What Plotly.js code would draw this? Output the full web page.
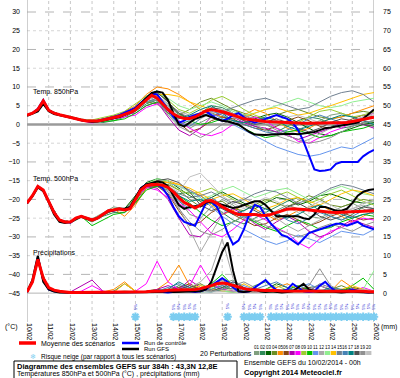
<!DOCTYPE html>
<html><head><meta charset="utf-8">
<script src="https://cdn.plot.ly/plotly-3.0.1.min.js"></script>
<style>body{margin:0;background:#fff}#chart{width:400px;height:378px}</style>
</head><body><div id="chart"></div>
<script>
// ---------- time axes (hours since 10/02/2014 00h) ----------
const hoursFull = [0,6,12,18,24,30,36,42,48,54,60,66,72,78,84,90,96,102,108,114,120,126,132,138,144,150,156,162,168,174,180,186,192,198,204,210,216,222,228,234,240,246,252,258,264,270,276,282,288,294,300,306,312,318,324,330,336,342,348,354,360,366,372,378,384];
const hoursPert = [0,6,12,18,24,36,48,60,72,84,96,108,120,132,144,156,168,180,192,204,216,228,240,252,264,276,288,300,312,324,336,348,360,372,384];
const dateTicks = [0,24,48,72,96,120,144,168,192,216,240,264,288,312,336,360,384];
const dateLabels = ["10/02","11/02","12/02","13/02","14/02","15/02","16/02","17/02","18/02","19/02","20/02","21/02","22/02","23/02","24/02","25/02","26/02"];
const leftTicks = [-45,-40,-35,-30,-25,-20,-15,-10,-5,0,5,10,15,20,25,30];
const rightTicks = [0,5,10,15,20,25,30,35,40,45,50,55,60,65,70,75];

// ---------- mean / control / GFS (6h) ----------
const meanT850 = [2.5,3.0,4.0,6.3, 3.8,3.0,2.6,2.2, 2.0,1.6,1.2,0.9, 0.8,0.9,1.2,1.5, 1.8,2.2,2.7,3.2, 4.0,5.2,6.5,7.8, 7.0,5.5,4.0,2.8, 2.0,1.6,1.6,2.0, 2.8,3.6,4.0,3.8, 3.4,3.0,2.6,2.0, 1.5,1.3,1.0,0.9, 0.8,0.7,0.6,0.6, 0.5,0.4,0.4,0.3, 0.3,0.3,0.3,0.3, 0.3,0.4,0.4,0.5, 0.8,1.1,1.4,1.7, 1.9];
const ctrlT850 = [2.5,3.0,4.2,6.5, 3.8,3.0,2.6,2.2, 2.0,1.6,1.2,0.9, 0.8,1.0,1.3,1.7, 2.0,2.5,3.2,3.8, 4.5,5.8,7.0,8.2, 8.0,6.0,4.0,2.0, 0.5,1.0,2.0,2.5, 3.0,3.5,2.5,1.5, 1.0,1.5,2.5,3.0, 2.0,1.0,0.5,1.0, 1.5,2.0,2.5,2.0, 1.5,0.5,-1.5,-4.5, -8.5,-12.0,-12.4,-12.3, -12.0,-10.5,-10.0,-10.0, -10.2,-10.0,-8.5,-7.5, -6.8];
const gfsT850 = [2.3,2.8,3.5,5.5, 3.5,2.8,2.5,2.1, 1.8,1.5,1.1,0.8, 0.7,0.8,1.1,1.4, 1.6,2.0,2.6,3.2, 4.2,5.5,7.0,8.4, 8.8,8.5,6.5,3.0, 0.0,-0.5,0.5,1.5, 2.0,2.5,2.0,1.5, 1.0,0.8,0.5,0.0, -1.0,-2.0,-2.7,-2.8, -2.8,-2.7,-2.6,-2.6, -2.5,-2.5,-2.6,-2.4, -2.2,-2.0,-1.5,-1.0, -0.8,-0.5,-0.2,0.0, 0.2,0.5,1.5,2.8, 4.0];

const meanT500 = [-21.0,-19.0,-16.5,-17.5, -20.5,-23.5,-25.5,-26.0, -26.0,-25.0,-24.5,-25.0, -25.5,-25.0,-24.0,-23.0, -22.8,-22.5,-22.8,-22.5, -20.0,-17.5,-16.3,-16.0, -16.0,-16.2,-16.8,-18.0, -19.5,-20.8,-21.5,-22.3, -21.5,-20.5,-20.3,-21.0, -22.0,-22.8,-23.5,-24.0, -24.0,-23.8,-24.0,-24.2, -24.3,-24.0,-23.5,-23.0, -22.6,-22.5,-22.5,-22.7, -22.8,-23.0,-23.2,-23.3, -23.4,-23.5,-23.5,-23.4, -23.3,-23.2,-23.1,-23.1, -23.0];
const ctrlT500 = [-21.0,-19.0,-16.5,-17.5, -20.5,-23.5,-25.5,-26.0, -26.2,-25.0,-24.5,-25.0, -25.5,-25.0,-24.0,-23.0, -23.0,-22.5,-22.8,-22.5, -20.0,-17.0,-16.0,-15.8, -16.0,-17.0,-19.0,-22.0, -24.5,-26.0,-26.5,-27.0, -24.0,-21.0,-20.5,-22.0, -25.0,-29.0,-32.0,-31.0, -28.0,-24.0,-21.5,-22.0, -24.5,-26.5,-28.0,-29.5, -30.0,-31.0,-32.0,-30.5, -29.0,-28.5,-28.0,-27.5, -27.0,-26.5,-26.5,-27.0, -26.5,-26.0,-27.0,-27.5, -28.0];
const gfsT500 = [-21.0,-19.2,-16.8,-17.8, -20.8,-24.0,-26.0,-26.3, -26.0,-25.2,-24.5,-25.2, -25.5,-25.0,-24.2,-23.2, -22.8,-22.5,-22.5,-22.0, -19.5,-17.0,-16.0,-15.5, -15.2,-15.5,-16.5,-19.0, -21.5,-22.5,-22.0,-21.8, -21.8,-20.8,-20.5,-21.0, -21.5,-22.0,-22.3,-22.0, -21.5,-21.0,-20.5,-20.5, -21.5,-23.0,-24.5,-24.5, -24.5,-24.5,-24.5,-25.0, -25.3,-24.0,-22.0,-22.0, -22.5,-23.0,-23.0,-22.5, -21.0,-19.0,-18.0,-17.5, -17.3];

const meanPrecip = [0.3,3.0,9.0,4.0, 1.5,0.8,0.5,0.3, 0.2,0.2,0.2,0.2, 0.2,0.2,0.2,0.2, 0.2,0.2,0.3,0.3, 0.3,0.3,0.4,0.5, 0.5,0.6,0.8,0.8, 1.0,0.8,0.8,1.0, 1.2,1.5,2.0,2.5, 2.7,2.5,2.0,1.5, 1.2,1.0,0.8,0.8, 0.7,0.8,0.7,0.6, 0.6,0.6,0.5,0.6, 0.7,0.7,0.6,0.6, 0.7,0.6,0.6,0.5, 0.5,0.5,0.5,0.4, 0.4];
const ctrlPrecip = [0.3,3.0,9.5,3.5, 1.0,0.5,0.3,0.2, 0.1,0.1,0.1,0.1, 0.1,0.1,0.1,0.1, 0.1,0.1,0.1,0.1, 0.2,0.3,0.3,0.5, 0.5,0.3,0.2,0.3, 0.5,0.8,0.5,0.3, 0.5,1.0,2.0,3.0, 4.0,3.0,1.5,0.5, 0.3,0.5,1.5,2.5, 3.5,2.0,0.8,0.5, 1.0,2.5,1.5,0.5, 0.3,0.5,2.0,3.0, 1.5,0.5,0.3,0.5, 1.0,0.5,0.3,0.2, 0.3];
const gfsPrecip = [0.3,3.5,10.0,3.0, 1.0,0.4,0.2,0.1, 0.1,0.1,0.1,0.1, 0.1,0.1,0.2,0.1, 0.1,0.2,0.3,0.2, 0.2,0.3,0.3,0.2, 0.3,0.4,0.5,0.3, 0.3,0.5,0.5,0.3, 0.5,1.0,3.0,7.0, 11.0,13.5,6.0,0.5, 0.3,0.5,1.0,0.5, 0.3,0.5,0.3,0.2, 0.3,0.5,1.5,2.5, 1.0,0.5,0.3,0.5, 0.5,0.3,0.2,0.3, 0.5,0.3,0.2,0.2, 0.2];

// ---------- 20 perturbations (6h first day, then 12h) ----------
const pertT850 = [
[2.5,3.1,4.1,6.4,3.7,2.5,1.9,1.0,0.6,1.5,2.4,3.0,4.5,7.0,8.0,5.0,1.0,-1.0,0.5,2.0,3.5,4.0,2.5,1.0,0.0,-1.0,-2.0,-1.5,0.0,1.0,2.5,3.0,2.0,1.0,0.5],
[2.4,3.0,3.9,6.2,3.9,2.7,2.1,1.3,1.0,0.5,1.0,2.0,3.5,5.5,6.5,3.0,0.0,1.0,3.0,5.0,4.5,3.0,1.0,-0.5,-1.5,-2.0,-0.5,1.0,2.0,1.5,0.0,-1.0,-0.5,0.5,1.0],
[2.6,3.0,4.0,6.3,3.8,2.6,2.0,1.2,0.5,1.0,1.5,2.5,4.0,7.5,9.0,6.0,2.5,1.5,2.0,3.0,2.0,1.0,0.5,1.5,2.5,3.0,2.0,0.5,-1.0,-2.5,-3.0,-2.0,-1.0,0.0,0.5],
[2.5,2.9,4.0,6.2,3.8,2.6,1.9,1.1,0.9,1.4,2.0,3.0,4.5,6.0,5.5,3.0,2.5,4.0,6.0,7.0,5.5,4.0,3.0,2.0,1.5,2.5,3.5,4.0,3.0,2.0,1.5,2.0,3.0,3.5,3.0],
[2.5,3.0,4.1,6.4,3.8,2.6,2.0,1.2,0.7,1.0,1.8,3.5,5.0,8.0,10.0,9.5,8.0,6.0,4.0,3.0,2.0,1.5,2.5,4.0,3.0,1.0,-1.0,-2.0,-1.0,0.5,1.5,2.0,3.0,4.0,5.0],
[2.5,3.0,4.0,6.3,3.7,2.7,2.0,1.2,0.8,1.2,2.2,2.5,3.5,6.5,7.5,4.0,0.5,-2.0,-1.0,1.0,2.0,1.5,0.0,-1.0,-1.5,-0.5,1.0,2.0,1.0,-0.5,-1.0,0.0,1.5,2.5,2.0],
[2.5,3.0,4.0,6.2,3.8,2.6,2.0,1.4,1.1,1.3,2.0,3.0,3.0,5.0,6.0,2.0,-1.5,-3.0,-1.0,2.0,3.0,2.0,0.5,-0.5,-1.0,-2.0,-3.0,-4.0,-3.0,-2.0,-1.0,0.5,1.0,0.0,-1.0],
[2.5,3.0,4.0,6.3,3.8,2.6,2.0,1.0,0.4,1.0,1.5,2.0,2.5,4.5,5.5,3.5,1.0,-1.0,-2.5,-3.0,-2.0,0.0,1.0,2.0,1.0,-1.0,-2.5,-4.5,-5.0,-3.5,-2.0,-1.0,0.5,2.0,3.0],
[2.5,3.0,4.0,6.3,3.8,2.6,2.0,1.4,1.2,1.8,2.5,3.5,5.5,7.5,8.5,6.5,4.0,3.0,4.5,6.5,7.5,6.0,4.0,2.5,1.5,0.5,-0.5,0.5,2.0,3.5,4.0,3.0,2.0,2.5,3.5],
[2.5,3.0,4.0,6.3,3.8,2.6,2.0,1.2,0.6,0.8,1.0,1.5,3.0,5.0,6.0,5.0,3.0,1.0,0.0,0.5,1.5,0.5,-1.0,-2.5,-3.5,-3.0,-2.0,-1.5,-2.5,-3.5,-3.0,-2.0,-1.5,-1.0,0.0],
[2.5,3.0,4.0,6.3,3.8,2.6,2.1,1.3,0.9,1.3,1.8,2.8,4.0,6.0,7.0,4.5,2.0,1.0,2.0,3.0,1.5,0.0,-1.5,-3.0,-4.5,-6.0,-7.0,-8.0,-8.5,-8.0,-7.0,-6.0,-6.5,-5.0,-3.5],
[2.5,3.0,4.0,6.3,3.8,2.6,2.0,1.2,0.8,1.2,1.8,2.7,4.2,6.8,7.8,5.5,3.5,2.5,3.0,4.0,3.5,2.0,1.0,0.0,-1.5,-3.0,-4.0,-5.0,-4.0,-2.5,-1.0,0.0,1.0,2.0,3.0],
[2.5,3.0,4.0,6.3,3.8,2.7,2.2,1.4,1.0,1.5,2.0,2.9,4.5,7.0,8.5,7.0,5.0,4.0,5.0,6.0,5.0,3.5,2.5,3.0,4.0,5.0,6.0,7.0,6.0,5.0,4.5,5.0,6.0,6.5,7.0],
[2.5,3.0,4.0,6.3,3.8,2.6,2.0,1.2,0.8,1.2,1.8,2.7,4.0,6.5,8.0,8.0,7.5,6.0,5.0,4.0,3.0,2.5,2.0,3.0,4.0,4.5,3.5,2.5,3.0,4.0,5.0,6.0,7.0,8.0,8.5],
[2.5,3.0,4.0,6.3,3.8,2.6,1.9,1.1,0.7,1.1,1.6,2.5,4.0,6.0,7.0,5.0,3.0,2.0,2.5,3.0,3.5,4.5,5.5,6.5,7.0,6.0,5.0,4.0,4.5,6.0,7.5,8.5,9.0,8.0,6.0],
[2.5,3.0,4.0,6.3,3.8,2.6,2.0,1.2,0.8,1.2,1.8,2.7,4.0,6.5,7.5,4.0,0.5,-0.5,1.5,3.5,2.5,1.0,0.0,-1.0,-2.0,-2.5,-1.5,0.0,1.5,2.5,1.5,0.5,0.0,1.0,2.0],
[2.5,3.0,4.0,6.3,3.8,2.6,2.0,1.2,0.8,1.0,1.6,2.4,4.0,6.0,6.5,3.5,1.5,2.5,4.0,5.0,3.0,1.0,0.5,1.0,2.0,1.0,-0.5,-1.5,-0.5,0.5,1.5,2.5,2.0,1.0,0.0],
[2.5,3.0,4.0,6.3,3.8,2.6,2.0,1.2,0.8,1.2,1.8,2.7,4.0,7.0,8.5,6.0,3.0,1.5,2.5,4.5,4.0,2.5,1.0,0.0,0.5,1.5,0.5,-1.0,-2.0,-1.0,0.5,1.5,1.0,0.0,-0.5],
[2.5,3.0,4.0,6.3,3.8,2.6,2.0,1.2,0.8,1.2,1.8,2.7,4.0,6.0,6.5,2.5,-0.5,-2.0,-3.5,-2.0,0.0,1.5,2.5,1.5,0.0,-1.5,-3.0,-4.0,-5.0,-4.5,-3.5,-2.0,-0.5,0.5,1.0],
[2.5,3.0,4.0,6.3,3.8,2.6,2.0,1.2,0.8,1.2,1.8,2.7,4.0,6.5,7.5,5.0,2.5,1.0,1.5,3.0,4.0,3.0,2.0,1.0,0.5,1.0,2.0,2.5,1.5,0.5,0.0,0.5,1.0,2.0,2.5]
];
const pertT500 = [
[-21,-19,-16.6,-17.4,-20.4,-25.6,-26.1,-24.3,-25.2,-23.5,-22.0,-22.5,-19.5,-16.0,-15.5,-16.5,-20.0,-24.0,-25.0,-22.0,-20.0,-21.5,-24.0,-26.0,-25.0,-23.0,-21.5,-22.5,-24.5,-25.0,-23.5,-22.0,-21.0,-22.5,-24.0],
[-21,-19.1,-16.5,-17.5,-20.6,-25.4,-26.3,-24.8,-26.0,-24.5,-23.5,-23.5,-21.0,-17.0,-16.5,-17.5,-18.5,-18.0,-19.0,-21.0,-23.5,-25.5,-26.5,-25.0,-23.5,-22.0,-20.5,-19.5,-21.0,-23.0,-24.5,-25.5,-24.0,-22.0,-21.0],
[-21,-18.9,-16.4,-17.6,-20.5,-25.5,-26.0,-24.6,-25.6,-24.2,-22.6,-22.5,-19.0,-15.5,-14.5,-15.0,-17.0,-19.0,-20.5,-19.5,-18.0,-19.5,-21.0,-22.5,-21.0,-19.5,-20.0,-21.5,-20.5,-19.0,-18.5,-19.5,-20.5,-21.0,-20.5],
[-21,-19,-16.5,-17.5,-20.5,-25.5,-26.2,-24.4,-25.8,-24.0,-23.0,-23.0,-20.5,-16.5,-16.0,-16.0,-17.5,-20.0,-22.0,-21.0,-20.5,-22.5,-23.0,-21.5,-20.0,-21.0,-22.0,-20.5,-19.0,-20.0,-21.5,-22.0,-21.0,-20.0,-20.5],
[-21,-19,-16.5,-17.5,-20.5,-25.5,-26.0,-24.5,-25.5,-23.8,-22.5,-24.5,-21.5,-17.0,-15.5,-15.0,-16.0,-17.5,-19.0,-21.5,-24.0,-23.0,-21.5,-22.5,-24.0,-25.5,-24.5,-23.0,-22.0,-21.5,-23.0,-24.5,-26.0,-24.5,-23.0],
[-21,-19,-16.5,-17.5,-20.5,-25.5,-26.0,-24.5,-25.4,-24.1,-22.9,-22.7,-20.2,-16.5,-16.5,-18.5,-23.0,-27.0,-26.0,-23.5,-22.0,-24.0,-25.5,-27.0,-26.5,-25.0,-24.0,-25.5,-27.0,-26.0,-24.5,-23.5,-24.5,-25.5,-25.0],
[-21,-19,-16.5,-17.5,-20.5,-25.5,-26.0,-24.5,-25.5,-24.0,-22.8,-22.8,-20.0,-16.5,-17.0,-20.0,-25.0,-29.5,-30.0,-27.0,-24.0,-22.5,-24.0,-26.5,-28.0,-26.0,-24.5,-26.0,-28.5,-30.0,-29.0,-27.0,-25.5,-26.5,-27.5],
[-21,-19,-16.5,-17.5,-20.5,-25.5,-26.0,-24.5,-25.5,-24.0,-22.8,-22.8,-20.0,-16.8,-17.5,-19.5,-21.0,-23.0,-26.0,-29.0,-30.0,-28.0,-25.5,-24.0,-25.5,-27.5,-29.0,-31.5,-33.0,-30.5,-28.5,-27.5,-26.0,-25.0,-25.5],
[-21,-19,-16.5,-17.5,-20.5,-25.5,-26.0,-24.5,-25.5,-24.0,-22.8,-22.8,-19.5,-15.8,-15.0,-15.5,-17.5,-18.5,-18.0,-17.0,-18.5,-20.0,-21.5,-22.0,-20.5,-19.0,-18.0,-19.5,-21.0,-20.0,-18.5,-17.5,-19.0,-20.5,-21.5],
[-21,-19,-16.5,-17.5,-20.5,-25.5,-26.0,-24.5,-27.0,-25.5,-24.0,-23.5,-21.0,-17.5,-16.5,-17.0,-19.0,-21.0,-23.5,-25.5,-27.0,-26.0,-24.5,-26.0,-27.5,-28.5,-27.0,-25.5,-26.5,-28.0,-27.5,-26.0,-25.0,-24.0,-24.5],
[-21,-19,-16.5,-17.5,-20.5,-25.5,-26.0,-24.5,-25.5,-24.0,-22.8,-22.8,-20.0,-16.0,-15.5,-15.5,-16.5,-17.5,-19.5,-22.0,-24.5,-26.5,-28.0,-29.5,-31.0,-32.0,-31.0,-29.5,-30.5,-31.5,-30.0,-28.5,-29.0,-29.5,-28.0],
[-21,-19,-16.5,-17.5,-20.5,-25.5,-26.0,-24.5,-25.5,-24.0,-22.8,-22.8,-20.0,-16.3,-15.5,-17.5,-22.0,-28.0,-34.0,-29.0,-24.0,-21.0,-19.5,-21.0,-23.5,-25.0,-27.0,-28.5,-27.0,-25.5,-24.0,-23.5,-22.5,-21.5,-22.5],
[-21,-19,-16.5,-17.5,-20.5,-25.5,-26.0,-24.5,-25.5,-24.0,-22.8,-22.8,-20.0,-16.0,-14.5,-15.0,-16.5,-18.0,-20.0,-19.0,-17.5,-16.5,-18.0,-19.5,-18.5,-17.5,-17.0,-18.5,-20.0,-19.0,-17.5,-16.5,-17.5,-18.5,-19.0],
[-21,-19,-16.5,-17.5,-20.5,-25.5,-26.0,-24.5,-25.5,-24.0,-22.8,-22.8,-20.0,-16.3,-15.5,-15.5,-16.0,-17.0,-18.5,-20.0,-19.0,-18.5,-20.0,-21.5,-22.5,-21.5,-20.0,-19.5,-20.5,-21.5,-20.0,-18.5,-17.5,-18.0,-19.0],
[-21,-19,-16.5,-17.5,-20.5,-25.5,-26.0,-24.5,-25.5,-24.0,-22.8,-22.8,-20.0,-16.3,-16.0,-16.5,-18.5,-19.5,-19.0,-18.0,-19.5,-21.0,-20.0,-18.5,-17.5,-18.0,-19.5,-21.0,-20.0,-18.5,-17.0,-16.0,-16.5,-17.5,-18.5],
[-21,-19,-16.5,-17.5,-20.5,-25.5,-26.0,-24.5,-25.5,-24.0,-22.8,-22.8,-20.0,-16.3,-16.0,-17.0,-20.5,-22.5,-21.0,-19.5,-21.5,-23.5,-25.0,-24.0,-22.5,-23.5,-25.5,-26.5,-25.0,-23.5,-24.5,-25.5,-24.5,-23.0,-22.5],
[-21,-19,-16.5,-17.5,-20.5,-25.5,-26.0,-24.5,-25.5,-24.0,-22.8,-22.8,-20.0,-16.3,-16.0,-16.8,-19.0,-20.5,-20.0,-21.0,-22.5,-24.0,-23.0,-21.5,-22.5,-24.0,-25.0,-24.0,-22.5,-21.5,-22.5,-24.0,-25.0,-24.0,-23.5],
[-21,-19,-16.5,-17.5,-20.5,-25.5,-26.0,-24.5,-25.5,-24.0,-22.8,-22.8,-20.0,-16.3,-15.0,-14.5,-15.5,-18.0,-21.5,-23.0,-22.0,-20.5,-21.5,-23.0,-24.5,-23.5,-22.0,-21.0,-22.5,-24.5,-25.5,-24.5,-23.0,-22.0,-22.5],
[-21,-19,-16.5,-17.5,-20.5,-25.5,-26.0,-24.5,-25.5,-24.0,-22.8,-22.8,-20.0,-16.3,-16.0,-18.0,-22.5,-26.0,-28.5,-29.5,-28.0,-26.0,-24.5,-25.5,-27.0,-28.0,-29.0,-30.0,-29.0,-27.5,-26.5,-27.5,-28.5,-27.0,-26.0],
[-21,-19,-16.5,-17.5,-20.5,-25.5,-26.0,-24.5,-25.5,-24.0,-22.8,-22.8,-20.0,-16.3,-16.0,-16.5,-18.0,-14.0,-13.0,-16.0,-19.0,-21.0,-22.5,-21.0,-19.5,-20.5,-22.0,-23.5,-22.0,-20.5,-21.5,-23.0,-22.5,-21.0,-20.5]
];
const pertPrecip = [
[0.3,3.0,9.0,4.0,1.2,0.3,0.1,0.1,0.1,0.2,0.3,0.2,0.1,0.3,0.5,1.0,1.5,0.8,0.5,1.0,2.5,3.5,1.5,0.5,0.3,0.5,1.0,0.5,0.3,0.2,0.5,1.0,0.5,0.3,0.2],
[0.2,2.8,8.5,4.5,1.0,0.3,0.1,0.1,0.2,0.1,0.5,2.5,0.5,0.2,0.3,0.5,2.0,1.0,0.3,0.5,1.5,1.0,0.5,2.0,3.0,1.0,0.3,0.5,1.5,2.0,0.8,0.3,0.2,0.5,0.3],
[0.3,3.2,9.5,3.5,1.3,0.2,0.1,0.1,0.1,0.1,0.2,0.3,0.2,0.5,1.0,0.5,0.3,0.5,1.0,2.0,1.0,0.5,0.3,0.5,1.0,2.5,1.5,0.5,0.3,0.5,0.8,0.5,1.5,1.0,0.5],
[0.3,3.0,8.0,4.0,1.5,0.4,0.1,0.2,0.1,0.1,0.2,0.2,0.3,0.3,0.5,0.8,0.5,1.5,2.5,1.0,0.5,0.3,0.5,1.0,0.5,0.3,0.5,1.0,0.5,0.3,1.0,2.0,0.8,0.5,0.3],
[0.3,3.0,9.0,4.0,1.2,0.3,0.1,0.1,0.2,0.3,1.0,3.0,0.5,0.3,1.0,3.0,7.5,2.0,0.5,1.0,2.0,1.0,0.5,0.3,0.5,1.5,2.5,1.0,0.5,0.3,0.5,3.5,1.5,0.5,0.3],
[0.3,3.0,9.0,4.0,1.2,0.3,0.1,0.1,0.1,0.1,0.2,0.3,0.2,0.3,0.5,0.5,1.5,2.5,1.0,0.5,1.0,2.0,1.0,0.5,0.3,0.2,0.5,1.0,1.5,0.5,0.3,0.5,1.0,0.5,0.3],
[0.3,3.0,9.0,4.0,1.2,0.3,0.3,2.0,3.5,0.5,0.2,0.3,0.2,0.3,1.0,2.0,1.0,3.5,1.5,2.0,4.0,2.0,0.5,0.3,0.5,0.3,0.2,0.5,1.0,2.0,1.0,0.5,0.3,0.2,0.2],
[0.3,3.0,9.5,4.0,1.2,0.3,0.1,0.5,2.0,0.5,0.2,0.3,0.5,2.5,8.5,3.0,1.0,2.0,7.5,2.5,1.0,0.5,0.3,0.5,1.0,0.5,0.3,0.5,1.0,0.5,0.3,0.2,0.5,1.5,0.5],
[0.3,3.0,9.0,4.0,1.2,0.3,0.1,0.1,0.1,0.1,0.2,0.2,0.2,0.3,0.5,0.3,0.5,1.0,0.5,1.5,3.0,1.5,0.5,0.3,1.0,2.0,0.8,0.3,0.5,0.3,0.2,0.5,1.0,0.5,0.3],
[0.3,3.0,8.5,4.5,1.2,0.3,0.1,0.1,0.1,0.1,0.3,0.5,0.3,0.2,0.3,0.5,1.0,0.5,1.0,2.5,5.0,2.0,1.0,0.5,0.3,0.5,1.0,2.0,1.0,0.5,0.3,0.5,2.0,4.0,1.0],
[0.3,3.0,9.0,4.0,1.2,0.3,0.1,0.1,0.1,0.1,0.2,0.3,0.2,0.3,0.5,1.0,0.5,0.3,0.5,1.0,2.0,3.0,2.0,1.0,0.5,0.3,0.5,1.5,2.5,1.0,0.5,0.3,0.5,0.3,0.2],
[0.3,3.0,9.0,4.0,1.2,0.3,0.1,0.1,0.1,0.1,0.2,0.3,0.2,0.3,0.5,0.5,1.0,1.5,3.0,6.0,14.5,4.0,1.0,0.5,0.3,0.5,0.3,0.5,1.0,2.0,1.0,0.5,0.3,0.5,0.3],
[0.3,3.0,9.0,4.0,1.2,0.3,0.1,0.1,0.1,0.1,0.2,0.2,0.2,0.3,0.3,0.5,0.5,1.0,2.0,1.5,0.5,0.3,0.5,1.0,0.5,0.3,0.2,0.3,0.5,1.0,0.5,0.3,0.5,1.0,6.0],
[0.3,3.0,9.0,4.0,1.2,0.3,0.1,0.1,0.1,0.1,0.2,2.5,0.5,0.3,0.5,0.3,0.5,1.0,2.0,1.0,0.5,1.0,2.5,1.0,0.5,0.3,0.5,1.0,0.5,0.3,0.5,1.0,2.0,1.0,0.5],
[0.3,3.0,9.0,4.0,1.2,0.3,0.1,0.1,0.1,0.1,0.2,0.3,0.2,0.3,0.5,0.5,0.3,0.5,1.0,2.0,3.5,1.5,0.5,0.3,0.5,1.0,0.5,0.3,0.5,2.5,1.5,0.5,0.3,0.2,0.3],
[0.3,3.0,9.0,4.0,1.2,0.3,0.1,0.1,0.1,0.1,0.2,0.3,0.2,0.3,0.5,1.5,2.5,1.0,0.5,1.0,2.0,1.0,0.5,1.0,2.0,3.0,1.5,0.5,0.3,0.5,1.0,0.5,0.3,0.5,0.3],
[0.3,3.0,9.0,4.0,1.2,0.3,0.1,0.1,0.1,0.1,0.2,0.3,0.2,0.3,0.5,1.0,3.0,1.5,0.5,0.3,1.0,2.5,1.0,0.5,0.3,0.5,1.0,0.5,0.3,0.5,1.5,1.0,0.5,0.3,0.2],
[0.3,3.0,9.0,4.0,1.2,0.3,0.1,0.1,0.1,0.1,0.2,0.3,0.2,0.3,0.5,0.5,1.0,2.0,1.0,0.5,1.5,3.0,1.5,0.5,0.3,0.5,0.3,0.5,1.0,0.5,0.3,0.5,1.0,0.5,0.3],
[0.3,3.0,9.0,4.0,1.2,0.3,0.1,0.1,0.1,0.1,0.2,0.3,0.2,0.3,0.5,0.5,0.3,0.5,1.0,0.5,1.0,2.0,3.0,1.5,0.5,0.3,0.5,1.0,2.0,6.5,2.0,0.5,0.3,0.5,0.3],
[0.3,3.0,9.0,4.0,1.2,0.3,0.1,0.1,0.1,0.1,0.2,0.3,0.2,0.3,0.5,0.5,0.5,1.0,0.5,0.3,0.5,1.0,0.5,0.3,0.5,1.0,0.5,0.3,0.5,1.0,0.5,0.3,0.5,1.0,0.5]
];
const pertLabels = ["01","02","03","04","05","06","07","08","09","10","11","12","13","14","15","16","17","18","19","20"];
const pertColors = ["#7f9f7f","#2e8b57","#006400","#6b8e23","#ff8c00","#8b4513","#b000b0","#ff00ff","#9acd32","#00c000","#6495ed","#a9a9a9","#90ee90","#ffc000","#708090","#4682b4","#008080","#505050","#909090","#c0c0c0"];

// ---------- snow risk ----------
const snowHours = [120,162,168,174,180,186,222,240,246,252,258,270,276,282,288,294,300,306,312,318,324,330,336,342,348,354,360,366,372,378,384];
const snowPct = ["5%","5%","5%","5%","5%","5%","5%","5%","5%","5%","5%","5%","5%","5%","5%","5%","5%","5%","5%","5%","5%","5%","5%","5%","5%","5%","5%","5%","5%","5%","5%"];

// ---------- build ----------
const FONT = "Liberation Sans Narrow, Liberation Sans, Arial, sans-serif";
const OFFSET = 45; // right axis = left axis + 45
const traces = [];
for (let i = 0; i < 20; i++) {
  const c = pertColors[i];
  traces.push({x: hoursPert, y: pertT850[i], mode: 'lines', line: {color: c, width: 1}, yaxis: 'y'});
  traces.push({x: hoursPert, y: pertT500[i], mode: 'lines', line: {color: c, width: 1}, yaxis: 'y'});
  traces.push({x: hoursPert, y: pertPrecip[i], mode: 'lines', line: {color: c, width: 1}, yaxis: 'y2'});
}
const mains = [
  [ctrlT850, ctrlT500, ctrlPrecip, '#0000ff', 2],
  [gfsT850, gfsT500, gfsPrecip, '#000000', 2],
  [meanT850, meanT500, meanPrecip, '#ff0000', 3]
];
for (const [a, b, p, c, w] of mains) {
  traces.push({x: hoursFull, y: a, mode: 'lines', line: {color: c, width: w}, yaxis: 'y'});
  traces.push({x: hoursFull, y: b, mode: 'lines', line: {color: c, width: w}, yaxis: 'y'});
  traces.push({x: hoursFull, y: p, mode: 'lines', line: {color: c, width: w}, yaxis: 'y2'});
}
// snowflakes (drawn as asterisk markers)
traces.push({x: snowHours, y: snowHours.map(() => -51.3), mode: 'markers', yaxis: 'y', cliponaxis: false,
  marker: {symbol: 'asterisk-open', size: 7, color: '#7ccdf0', line: {color: '#7ccdf0', width: 2}}});

const L = 27, R = 374, B = 322;
const xp = px => (px - L) / (R - L);
const yp = py => (B - py) / B;

const shapes = [];
for (const v of leftTicks) {
  let col = '#d6d6d6', dash = 'dot', w = 1;
  if (v % 10 === 0) { col = '#b4b4b4'; dash = 'dash'; }
  if (v === -45) { col = '#b4b4b4'; dash = 'solid'; }
  if (v === 0) { col = '#9a9a9a'; dash = 'solid'; w = 2.5; }
  shapes.push({type: 'line', xref: 'paper', yref: 'y', x0: 0, x1: 1, y0: v, y1: v, line: {color: col, width: w, dash: dash}, layer: 'below'});
}
for (const t of dateTicks) {
  shapes.push({type: 'line', xref: 'x', yref: 'paper', x0: t, x1: t, y0: 0, y1: 1,
    line: {color: (t === 0 || t === 384) ? '#a0a0a0' : '#c8c8c8', width: 1, dash: (t === 0 || t === 384) ? 'solid' : 'dot'}, layer: 'below'});
}
// legend lines
shapes.push({type: 'line', xref: 'paper', yref: 'paper', x0: xp(19), x1: xp(36), y0: yp(343), y1: yp(343), line: {color: '#ff0000', width: 3.5}});
shapes.push({type: 'line', xref: 'paper', yref: 'paper', x0: xp(122), x1: xp(139), y0: yp(343), y1: yp(343), line: {color: '#0000ff', width: 2.5}});
shapes.push({type: 'line', xref: 'paper', yref: 'paper', x0: xp(122), x1: xp(139), y0: yp(349), y1: yp(349), line: {color: '#000000', width: 2.5}});
// perturbation colour boxes
const boxW = (372 - 254) / 20;
for (let i = 0; i < 20; i++) {
  shapes.push({type: 'rect', xref: 'paper', yref: 'paper', x0: xp(254 + i * boxW), x1: xp(254 + (i + 1) * boxW - 0.6),
    y0: yp(355), y1: yp(351), fillcolor: pertColors[i], line: {width: 0}});
}
// title box
shapes.push({type: 'rect', xref: 'paper', yref: 'paper', x0: xp(14), x1: xp(237), y0: yp(380), y1: yp(361), line: {color: '#000', width: 1}, fillcolor: 'rgba(0,0,0,0)'});

const ann = [];
const txt = (px, py, text, opts = {}) => ann.push(Object.assign({xref: 'paper', yref: 'paper', x: xp(px), y: yp(py), text: text, showarrow: false,
  xanchor: 'left', yanchor: 'middle', borderpad: 0, font: {family: FONT, size: 7, color: '#000'}}, opts));
txt(32, 92, 'Temp. 850hPa');
txt(32, 179, 'Temp. 500hPa');
txt(32, 253, 'Précipitations');
txt(4, 327, '(°C)');
txt(380, 327, '(mm)');
txt(40, 344, 'Moyenne des scénarios');
txt(143, 342.5, 'Run de contrôle', {font: {family: FONT, size: 6, color: '#000'}});
txt(143, 349.3, 'Run GFS', {font: {family: FONT, size: 6, color: '#000'}});
txt(29, 356.5, '❄', {font: {family: 'DejaVu Sans', size: 7, color: '#7ccdf0'}});
txt(40, 356.5, 'Risque neige (par rapport à tous les scénarios)', {font: {family: FONT, size: 6.5, color: '#000'}});
txt(199, 353, '20 Perturbations');
for (let i = 0; i < 20; i++) {
  txt(254 + (i + 0.5) * boxW, 347, pertLabels[i], {xanchor: 'center', font: {family: FONT, size: 4.5, color: '#000'}});
}
txt(16, 366, '<b>Diagramme des ensembles GEFS sur 384h : 43,3N 12,8E</b>', {font: {family: FONT, size: 7.5, color: '#000'}});
txt(16, 373.5, 'Températures 850hPa et 500hPa (°C) , précipitations (mm)');
txt(243, 362, 'Ensemble GEFS du 10/02/2014 - 00h');
txt(243, 372, '<b>Copyright 2014 Meteociel.fr</b>', {font: {family: FONT, size: 7.5, color: '#000'}});
for (let i = 0; i < snowHours.length; i++) {
  ann.push({xref: 'x', yref: 'y', x: snowHours[i], y: -48.6, text: snowPct[i], textangle: -90, showarrow: false, borderpad: 0,
    font: {family: FONT, size: 4, color: '#2020d0'}, xanchor: 'center', yanchor: 'middle'});
}

const layout = {
  width: 400, height: 378,
  margin: {l: L, r: 400 - R, t: 0, b: 378 - B},
  paper_bgcolor: '#fff', plot_bgcolor: '#fff',
  showlegend: false,
  xaxis: {range: [0, 384], tickvals: dateTicks, ticktext: dateLabels, tickangle: 90, showgrid: false, zeroline: false,
    showline: false, ticks: '', tickfont: {family: FONT, size: 7, color: '#000'}, ticklabelshift: 2},
  yaxis: {range: [-52.7, 33.2], tickvals: leftTicks, showgrid: false, zeroline: false, showline: false, ticks: '',
    tickfont: {family: FONT, size: 7, color: '#000'}, ticklabelstandoff: 6},
  yaxis2: {range: [-52.7 + OFFSET, 33.2 + OFFSET], tickvals: rightTicks, overlaying: 'y', side: 'right', showgrid: false,
    zeroline: false, showline: false, ticks: '', tickfont: {family: FONT, size: 7, color: '#000'}, ticklabelstandoff: 8},
  shapes: shapes,
  annotations: ann
};
Plotly.newPlot('chart', traces, layout, {staticPlot: true});
</script>
</body></html>
